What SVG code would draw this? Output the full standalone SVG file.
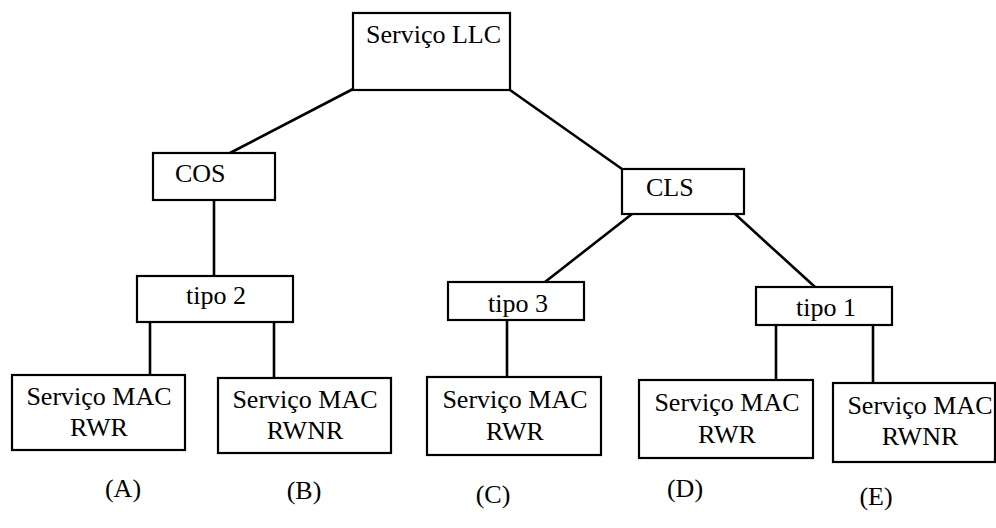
<svg xmlns="http://www.w3.org/2000/svg" width="996" height="528" viewBox="0 0 996 528">
  <style>
    .box { fill: #fff; stroke: #000; stroke-width: 2.2; }
    .link { stroke: #000; stroke-width: 2.6; fill: none; }
    text { font-family: "Liberation Serif", "Times New Roman", serif; font-size: 26px; fill: #000; }
    .c { text-anchor: middle; }
  </style>
  <rect width="996" height="528" fill="#fff"/>

  <!-- tree links -->
  <g id="connectors">
    <line class="link" x1="353" y1="89" x2="230" y2="153"/>
    <line class="link" x1="510" y1="90" x2="622" y2="169"/>
    <line class="link" x1="214" y1="200" x2="214" y2="276"/>
    <line class="link" x1="632" y1="214" x2="545" y2="282"/>
    <line class="link" x1="735" y1="214" x2="815" y2="287"/>
    <line class="link" x1="150" y1="322" x2="150" y2="375"/>
    <line class="link" x1="274" y1="322" x2="274" y2="378"/>
    <line class="link" x1="507" y1="320" x2="507" y2="377"/>
    <line class="link" x1="776" y1="325" x2="776" y2="380"/>
    <line class="link" x1="873" y1="325" x2="873" y2="383"/>
  </g>

  <g id="llc">
    <rect class="box" x="353" y="13" width="157" height="77"/>
    <text x="366" y="43">Serviço LLC</text>
  </g>
  <g id="cos">
    <rect class="box" x="153" y="153" width="122" height="47"/>
    <text x="175" y="182">COS</text>
  </g>
  <g id="cls">
    <rect class="box" x="622" y="169" width="122" height="45"/>
    <text x="646" y="196">CLS</text>
  </g>
  <g id="tipo2">
    <rect class="box" x="137" y="276" width="156" height="46"/>
    <text class="c" x="216" y="304">tipo 2</text>
  </g>
  <g id="tipo3">
    <rect class="box" x="448" y="282" width="136" height="38"/>
    <text class="c" x="518" y="312">tipo 3</text>
  </g>
  <g id="tipo1">
    <rect class="box" x="756" y="287" width="136" height="38"/>
    <text class="c" x="826" y="316">tipo 1</text>
  </g>

  <g id="macA">
    <rect class="box" x="12" y="375" width="173" height="75"/>
    <text class="c" x="99" y="405">Serviço MAC</text>
    <text class="c" x="99" y="436">RWR</text>
  </g>
  <g id="macB">
    <rect class="box" x="218" y="378" width="173" height="75"/>
    <text class="c" x="305" y="408">Serviço MAC</text>
    <text class="c" x="305" y="439">RWNR</text>
  </g>
  <g id="macC">
    <rect class="box" x="427" y="377" width="174" height="78"/>
    <text class="c" x="515" y="408">Serviço MAC</text>
    <text class="c" x="515" y="440">RWR</text>
  </g>
  <g id="macD">
    <rect class="box" x="639" y="380" width="174" height="78"/>
    <text class="c" x="727" y="411">Serviço MAC</text>
    <text class="c" x="727" y="443">RWR</text>
  </g>
  <g id="macE">
    <rect class="box" x="833" y="383" width="162" height="79"/>
    <text class="c" x="920" y="414">Serviço MAC</text>
    <text class="c" x="920" y="445">RWNR</text>
  </g>

  <g id="labels">
    <text class="c" x="123" y="497">(A)</text>
    <text class="c" x="304" y="499">(B)</text>
    <text class="c" x="493" y="503">(C)</text>
    <text class="c" x="685" y="497">(D)</text>
    <text class="c" x="876" y="505">(E)</text>
  </g>
</svg>
